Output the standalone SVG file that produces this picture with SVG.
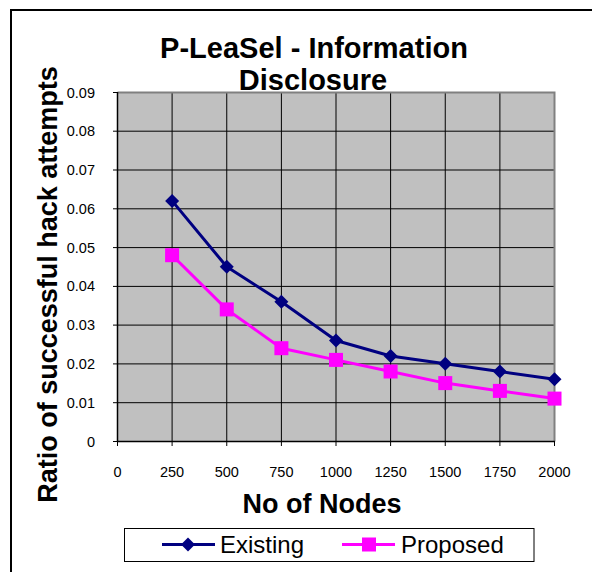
<svg xmlns="http://www.w3.org/2000/svg" width="592" height="572" viewBox="0 0 592 572">
<style>
text{font-family:"Liberation Sans",Arial,sans-serif;fill:#000}
.title{font-size:29px;font-weight:bold;text-anchor:middle}
.axt{font-size:27px;font-weight:bold;text-anchor:middle}
.yl{font-size:14.5px;text-anchor:end}
.xl{font-size:14.5px;text-anchor:middle}
.lg{font-size:24px}
.grid line{stroke:#000;stroke-width:1}
.tick line{stroke:#000;stroke-width:1}
.exist{fill:none;stroke:#000080;stroke-width:3;stroke-linejoin:round}
.prop{fill:none;stroke:#FF00FF;stroke-width:3;stroke-linejoin:round}
</style>
<defs>
<marker id="dia" markerUnits="userSpaceOnUse" markerWidth="16" markerHeight="16" refX="8" refY="8" orient="0" overflow="visible">
<path d="M8,1 L15,8 L8,15 L1,8 Z" fill="#000080"/>
</marker>
<marker id="sq" markerUnits="userSpaceOnUse" markerWidth="16" markerHeight="16" refX="8" refY="8" orient="0" overflow="visible">
<rect x="1" y="1" width="14" height="14" fill="#FF00FF"/>
</marker>
</defs>
<rect x="0" y="0" width="592" height="572" fill="#fff"/>
<g id="frame">
<line x1="11" y1="10" x2="592" y2="10" stroke="#000" stroke-width="2"/>
<line x1="11" y1="9" x2="11" y2="572" stroke="#000" stroke-width="2"/>
</g>
<g id="title">
<text class="title" x="314" y="58">P-LeaSel - Information</text>
<text class="title" x="313" y="90">Disclosure</text>
</g>
<g id="plot">
<rect x="117.5" y="92.5" width="437" height="349" fill="#C0C0C0"/>
<g class="grid">
<line x1="117.5" y1="402.7" x2="554.5" y2="402.7"/>
<line x1="117.5" y1="363.9" x2="554.5" y2="363.9"/>
<line x1="117.5" y1="325.1" x2="554.5" y2="325.1"/>
<line x1="117.5" y1="286.4" x2="554.5" y2="286.4"/>
<line x1="117.5" y1="247.6" x2="554.5" y2="247.6"/>
<line x1="117.5" y1="208.8" x2="554.5" y2="208.8"/>
<line x1="117.5" y1="170.0" x2="554.5" y2="170.0"/>
<line x1="117.5" y1="131.2" x2="554.5" y2="131.2"/>
<line x1="172.1" y1="92.5" x2="172.1" y2="441.5"/>
<line x1="226.75" y1="92.5" x2="226.75" y2="441.5"/>
<line x1="281.4" y1="92.5" x2="281.4" y2="441.5"/>
<line x1="336" y1="92.5" x2="336" y2="441.5"/>
<line x1="390.6" y1="92.5" x2="390.6" y2="441.5"/>
<line x1="445.25" y1="92.5" x2="445.25" y2="441.5"/>
<line x1="499.9" y1="92.5" x2="499.9" y2="441.5"/>
</g>
<polyline points="117.5,92.5 554.5,92.5 554.5,441.5" fill="none" stroke="#808080" stroke-width="2"/>
<line x1="117.5" y1="92" x2="117.5" y2="442" stroke="#000" stroke-width="1.5"/>
<line x1="117" y1="441.5" x2="555" y2="441.5" stroke="#000" stroke-width="1.5"/>
<g class="tick">
<line x1="113" y1="441.5" x2="117.5" y2="441.5"/>
<line x1="113" y1="402.7" x2="117.5" y2="402.7"/>
<line x1="113" y1="363.9" x2="117.5" y2="363.9"/>
<line x1="113" y1="325.1" x2="117.5" y2="325.1"/>
<line x1="113" y1="286.4" x2="117.5" y2="286.4"/>
<line x1="113" y1="247.6" x2="117.5" y2="247.6"/>
<line x1="113" y1="208.8" x2="117.5" y2="208.8"/>
<line x1="113" y1="170.0" x2="117.5" y2="170.0"/>
<line x1="113" y1="131.2" x2="117.5" y2="131.2"/>
<line x1="113" y1="92.5" x2="117.5" y2="92.5"/>
<line x1="117.5" y1="441.5" x2="117.5" y2="446"/>
<line x1="172.1" y1="441.5" x2="172.1" y2="446"/>
<line x1="226.75" y1="441.5" x2="226.75" y2="446"/>
<line x1="281.4" y1="441.5" x2="281.4" y2="446"/>
<line x1="336" y1="441.5" x2="336" y2="446"/>
<line x1="390.6" y1="441.5" x2="390.6" y2="446"/>
<line x1="445.25" y1="441.5" x2="445.25" y2="446"/>
<line x1="499.9" y1="441.5" x2="499.9" y2="446"/>
<line x1="554.5" y1="441.5" x2="554.5" y2="446"/>
</g>
</g>
<g id="y-labels">
<text class="yl" x="95" y="446.5">0</text>
<text class="yl" x="95" y="407.7">0.01</text>
<text class="yl" x="95" y="368.9">0.02</text>
<text class="yl" x="95" y="330.1">0.03</text>
<text class="yl" x="95" y="291.4">0.04</text>
<text class="yl" x="95" y="252.6">0.05</text>
<text class="yl" x="95" y="213.8">0.06</text>
<text class="yl" x="95" y="175.0">0.07</text>
<text class="yl" x="95" y="136.2">0.08</text>
<text class="yl" x="95" y="97.5">0.09</text>
</g>
<g id="x-labels">
<text class="xl" x="117.5" y="477">0</text>
<text class="xl" x="172.1" y="477">250</text>
<text class="xl" x="226.75" y="477">500</text>
<text class="xl" x="281.4" y="477">750</text>
<text class="xl" x="336" y="477">1000</text>
<text class="xl" x="390.6" y="477">1250</text>
<text class="xl" x="445.25" y="477">1500</text>
<text class="xl" x="499.9" y="477">1750</text>
<text class="xl" x="554.5" y="477">2000</text>
</g>
<g id="axis-titles">
<text class="axt" x="322" y="512.5">No of Nodes</text>
<text class="axt" transform="translate(57,284.5) rotate(-90)" x="0" y="0">Ratio of successful hack attempts</text>
</g>
<g id="connectors">
<polyline id="existing" class="exist" marker-start="url(#dia)" marker-mid="url(#dia)" marker-end="url(#dia)" points="172.1,200.9 226.75,266.8 281.4,301.7 336,340.5 390.6,356.0 445.25,363.7 499.9,371.5 554.5,379.3"/>
<polyline id="proposed" class="prop" marker-start="url(#sq)" marker-mid="url(#sq)" marker-end="url(#sq)" points="172.1,255.2 226.75,309.4 281.4,348.2 336,359.9 390.6,371.5 445.25,383.1 499.9,390.9 554.5,398.6"/>
</g>
<g id="legend">
<rect x="124.5" y="528.5" width="409.5" height="33" fill="#fff" stroke="#000" stroke-width="1"/>
<line x1="162" y1="544.5" x2="215" y2="544.5" stroke="#000080" stroke-width="3" marker-mid="url(#dia)"/>
<path d="M188,537.5 L195,544.5 L188,551.5 L181,544.5 Z" fill="#000080"/>
<text class="lg" x="220" y="553">Existing</text>
<line x1="342" y1="544.5" x2="395" y2="544.5" stroke="#FF00FF" stroke-width="3"/>
<rect x="362" y="537.5" width="14" height="14" fill="#FF00FF"/>
<text class="lg" x="401" y="553">Proposed</text>
</g>
</svg>
